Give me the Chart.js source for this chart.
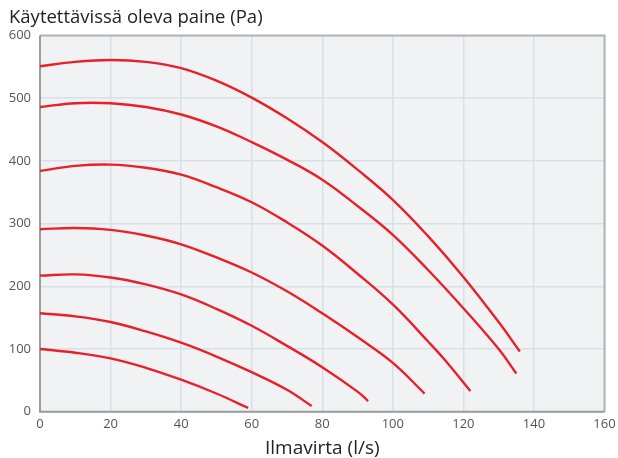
<!DOCTYPE html>
<html>
<head>
<meta charset="utf-8">
<script src="https://cdn.jsdelivr.net/npm/chart.js@4/dist/chart.umd.min.js"></script>
<style>
  html, body { margin: 0; padding: 0; background: #ffffff; }
  #wrap { width: 618px; height: 458px; position: relative; }
</style>
</head>
<body>
<div id="wrap"><canvas id="c" width="618" height="458"></canvas></div>
<script>
// ---- Data ----
const yTitle = "Käytettävissä oleva paine (Pa)";
const xTitle = "Ilmavirta (l/s)";
const xTicks = [0, 20, 40, 60, 80, 100, 120, 140, 160];
const yTicks = [0, 100, 200, 300, 400, 500, 600];

const curve1X = [0, 10, 20, 30, 40, 50, 60, 70, 80, 90, 100, 110, 120, 130, 136];
const curve1Y = [551, 558, 561, 558, 548, 528, 501, 468, 430, 386, 338, 280, 215, 143, 96];

const curve2X = [0, 10, 20, 30, 40, 50, 60, 70, 80, 90, 100, 110, 120, 130, 135];
const curve2Y = [486, 492, 492, 486, 474, 455, 430, 402, 370, 328, 282, 226, 165, 100, 61];

const curve3X = [0, 10, 20, 30, 40, 50, 60, 70, 80, 90, 100, 110, 115, 122];
const curve3Y = [384, 392, 394, 389, 378, 358, 334, 302, 265, 220, 171, 112, 81, 33];

const curve4X = [0, 10, 20, 30, 40, 50, 60, 70, 80, 90, 100, 109];
const curve4Y = [291, 293, 290, 281, 267, 246, 222, 192, 157, 119, 78, 29];

const curve5X = [0, 10, 20, 30, 40, 50, 60, 70, 80, 90, 93];
const curve5Y = [217, 219, 214, 203, 187, 164, 137, 105, 71, 32, 17];

const curve6X = [0, 10, 20, 30, 40, 50, 60, 70, 77];
const curve6Y = [157, 152, 143, 128, 110, 88, 63, 35, 9];

const curve7X = [0, 10, 20, 30, 40, 50, 59];
const curve7Y = [100, 94, 85, 70, 51, 29, 6];

const curves = [
  [curve1X, curve1Y], [curve2X, curve2Y], [curve3X, curve3Y], [curve4X, curve4Y],
  [curve5X, curve5Y], [curve6X, curve6Y], [curve7X, curve7Y]
];

// ---- Styles ----
const RED = '#e8202a';
const FONT = "'Open Sans', 'Noto Sans', sans-serif";

const datasets = curves.map(([xs, ys], i) => ({
  label: 'Käyrä ' + (i + 1),
  data: xs.map((x, j) => ({ x: x, y: ys[j] })),
  borderColor: RED,
  borderWidth: 2.4,
  pointRadius: 0,
  fill: false,
  tension: 0.4
}));

const plotBg = {
  id: 'plotBg',
  beforeDraw(chart) {
    const { ctx, chartArea: a } = chart;
    ctx.save();
    ctx.fillStyle = '#f1f2f4';
    ctx.fillRect(a.left, a.top, a.right - a.left, a.bottom - a.top);
    ctx.restore();
  },
  beforeDatasetsDraw(chart) {
    const { ctx, chartArea: a } = chart;
    ctx.save();
    ctx.strokeStyle = '#b4b4b4';
    ctx.lineWidth = 2;
    ctx.beginPath();
    ctx.moveTo(a.left, a.top);
    ctx.lineTo(a.right, a.top);
    ctx.lineTo(a.right, a.bottom);
    ctx.stroke();
    ctx.strokeStyle = '#9c9c9c';
    ctx.beginPath();
    ctx.moveTo(a.left, a.top);
    ctx.lineTo(a.left, a.bottom);
    ctx.lineTo(a.right, a.bottom);
    ctx.stroke();
    ctx.restore();
  }
};

new Chart(document.getElementById('c'), {
  type: 'line',
  data: { datasets },
  plugins: [plotBg],
  options: {
    responsive: false,
    animation: false,
    events: [],
    layout: { padding: { left: 9, right: 13.5, top: 0, bottom: 0 } },
    plugins: {
      legend: { display: false },
      tooltip: { enabled: false },
      title: {
        display: true,
        text: yTitle,
        align: 'start',
        color: '#222222',
        font: { family: FONT, size: 18.5, weight: 'normal', lineHeight: 1.2 },
        padding: { top: 6.5, bottom: 6.8 }
      }
    },
    scales: {
      x: {
        type: 'linear',
        min: 0, max: 160,
        afterBuildTicks(scale) { scale.ticks = xTicks.map(v => ({ value: v })); },
        afterFit(scale) { scale.height = 46.3; scale.paddingLeft = 0; scale.paddingRight = 0; },
        ticks: { color: '#555555', font: { family: FONT, size: 13 }, padding: 5, maxRotation: 0 },
        grid: { color: '#d8e0e7', lineWidth: 1.5, drawTicks: false },
        border: { display: false },
        title: {
          display: true, text: xTitle, color: '#222222',
          font: { family: FONT, size: 19, weight: 'normal', lineHeight: 1 },
          padding: 0
        }
      },
      y: {
        type: 'linear',
        min: 0, max: 600,
        afterBuildTicks(scale) { scale.ticks = yTicks.map(v => ({ value: v })); },
        afterFit(scale) { scale.width = 31; scale.paddingTop = 0; scale.paddingBottom = 0; },
        ticks: { color: '#555555', font: { family: FONT, size: 13 }, padding: 9 },
        grid: { color: '#d8e0e7', lineWidth: 1.5, drawTicks: false },
        border: { display: false }
      }
    }
  }
});
</script>
</body>
</html>
